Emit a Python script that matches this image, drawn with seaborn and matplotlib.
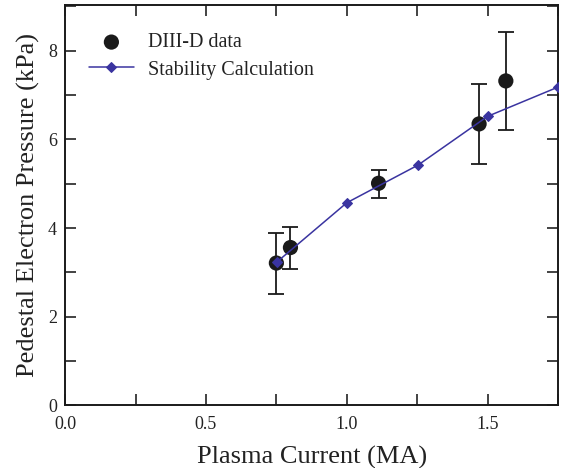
import matplotlib
matplotlib.use("Agg")
import matplotlib.pyplot as plt
import seaborn as sns
import pandas as pd
from matplotlib.ticker import MultipleLocator, FormatStrFormatter

# DIII-D data
data_current = [0.75, 0.80, 1.113, 1.47, 1.565]
data_pressure = [3.21, 3.56, 5.01, 6.35, 7.32]
data_err_low = [0.70, 0.48, 0.33, 0.91, 1.11]
data_err_high = [0.68, 0.46, 0.30, 0.90, 1.11]

# Stability calculation
calc_current = [0.753, 1.0, 1.253, 1.50, 1.75]
calc_pressure = [3.24, 4.57, 5.42, 6.52, 7.18]

sns.set_style("ticks")
plt.rcParams['font.family'] = ['Liberation Serif', 'DejaVu Serif']

fig, ax = plt.subplots(figsize=(5.67, 4.68), dpi=100)
fig.subplots_adjust(left=0.115, right=0.984, top=0.989, bottom=0.134)

ax.errorbar(data_current, data_pressure, yerr=[data_err_low, data_err_high],
            fmt='none', ecolor='#1a1a1a', elinewidth=1.3, capsize=6, capthick=1.3, zorder=2)

df_data = pd.DataFrame({"I": data_current, "P": data_pressure})
df_calc = pd.DataFrame({"I": calc_current, "P": calc_pressure})

sns.scatterplot(data=df_data, x="I", y="P", ax=ax, color='#1a1a1a', s=120,
                edgecolor='none', label='DIII-D data', zorder=3)
sns.lineplot(data=df_calc, x="I", y="P", ax=ax, color='#3a34a0', marker='D',
             markersize=5.5, markeredgecolor='#3a34a0', linewidth=1.1,
             label='Stability Calculation', zorder=4)

ax.set_xlim(0, 1.75)
ax.set_ylim(0, 9.03)
ax.xaxis.set_major_locator(MultipleLocator(0.5))
ax.xaxis.set_minor_locator(MultipleLocator(0.25))
ax.yaxis.set_major_locator(MultipleLocator(2))
ax.yaxis.set_minor_locator(MultipleLocator(1))
ax.xaxis.set_major_formatter(FormatStrFormatter('%.1f'))
ax.yaxis.set_major_formatter(FormatStrFormatter('%d'))

ax.tick_params(which='both', direction='in', top=True, right=True, width=1.2,
               labelsize=13, colors='#222222')
ax.tick_params(axis='x', which='major', pad=8)
ax.tick_params(axis='y', which='major', pad=6)
ax.tick_params(which='major', length=8)
ax.tick_params(which='minor', length=8)
for sp in ax.spines.values():
    sp.set_linewidth(1.4)
    sp.set_color('#1a1a1a')

ax.set_xlabel('Plasma Current (MA)', fontsize=19, color='#222222', labelpad=9)
ax.set_ylabel('Pedestal Electron Pressure (kPa)', fontsize=19, color='#222222', labelpad=6)

leg = ax.legend(loc='upper left', frameon=False, fontsize=14.5, bbox_to_anchor=(0.012, 0.975),
                handlelength=2.2, handletextpad=0.7, labelspacing=0.4)
for t in leg.get_texts():
    t.set_color('#222222')

fig.savefig('out.png', dpi=100)
